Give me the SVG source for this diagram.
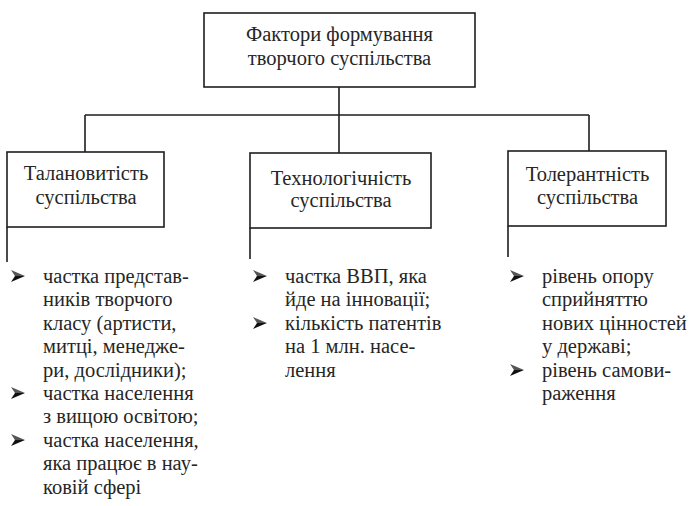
<svg xmlns="http://www.w3.org/2000/svg" xmlns:xlink="http://www.w3.org/1999/xlink" width="697" height="506" viewBox="0 0 697 506">
<style>
.box{fill:#fff;stroke:#1e1e1e;stroke-width:1.6}
.ln{fill:none;stroke:#1e1e1e;stroke-width:1.6}
.t{font-family:"Liberation Serif","Times New Roman",serif;font-size:20.5px;fill:#262626}
.c{text-anchor:middle}
</style>
<defs>
<symbol id="bul" viewBox="0 0 14 12" overflow="visible">
<path d="M0,0 L14,6 L4,6 Z" fill="#555"/>
<path d="M0,12 L14,6 L4,6 Z" fill="#111"/>
</symbol>
</defs>
<rect width="697" height="506" fill="#fff"/>
<g id="connectors">
<path class="ln" d="M339,87 V153 M85,115 H589 M85,115 V152 M589,115 V151"/>
<path class="ln" d="M7,227 V262 M250,228 V259 M508,226 V257"/>
</g>
<g id="root">
<rect class="box" x="204" y="13" width="271" height="74"/>
<text class="t c" x="339.5" y="41">Фактори формування</text>
<text class="t c" x="339.5" y="65">творчого суспільства</text>
</g>
<g id="talent">
<rect class="box" x="7" y="152" width="157" height="75"/>
<text class="t c" x="86" y="180">Талановитість</text>
<text class="t c" x="86" y="204">суспільства</text>
</g>
<g id="tech">
<rect class="box" x="250" y="153" width="181" height="75"/>
<text class="t c" x="341" y="185">Технологічність</text>
<text class="t c" x="341" y="207">суспільства</text>
</g>
<g id="toler">
<rect class="box" x="508" y="151" width="158" height="75"/>
<text class="t c" x="587.5" y="181">Толерантність</text>
<text class="t c" x="587.5" y="204">суспільства</text>
</g>
<g id="talent-list">
<use xlink:href="#bul" x="11" y="270" width="14" height="12"/>
<use xlink:href="#bul" x="11" y="387" width="14" height="12"/>
<use xlink:href="#bul" x="11" y="434" width="14" height="12"/>
<text class="t" x="43" y="283">частка представ-</text>
<text class="t" x="43" y="306.4">ників творчого</text>
<text class="t" x="43" y="329.8">класу (артисти,</text>
<text class="t" x="43" y="353.2">митці, менедже-</text>
<text class="t" x="43" y="376.6">ри, дослідники);</text>
<text class="t" x="43" y="400">частка населення</text>
<text class="t" x="43" y="423.4">з вищою освітою;</text>
<text class="t" x="43" y="446.8">частка населення,</text>
<text class="t" x="43" y="470.2">яка працює в нау-</text>
<text class="t" x="43" y="493.6">ковій сфері</text>
</g>
<g id="tech-list">
<use xlink:href="#bul" x="253" y="270" width="14" height="12"/>
<use xlink:href="#bul" x="253" y="317" width="14" height="12"/>
<text class="t" x="285" y="283">частка ВВП, яка</text>
<text class="t" x="285" y="306.4">йде на інновації;</text>
<text class="t" x="285" y="329.8">кількість патентів</text>
<text class="t" x="285" y="353.2">на 1 млн. насе-</text>
<text class="t" x="285" y="376.6">лення</text>
</g>
<g id="toler-list">
<use xlink:href="#bul" x="510" y="270" width="14" height="12"/>
<use xlink:href="#bul" x="510" y="364" width="14" height="12"/>
<text class="t" x="542" y="283">рівень опору</text>
<text class="t" x="542" y="306.4">сприйняттю</text>
<text class="t" x="542" y="329.8">нових цінностей</text>
<text class="t" x="542" y="353.2">у державі;</text>
<text class="t" x="542" y="376.6">рівень самови-</text>
<text class="t" x="542" y="400">раження</text>
</g>
</svg>
